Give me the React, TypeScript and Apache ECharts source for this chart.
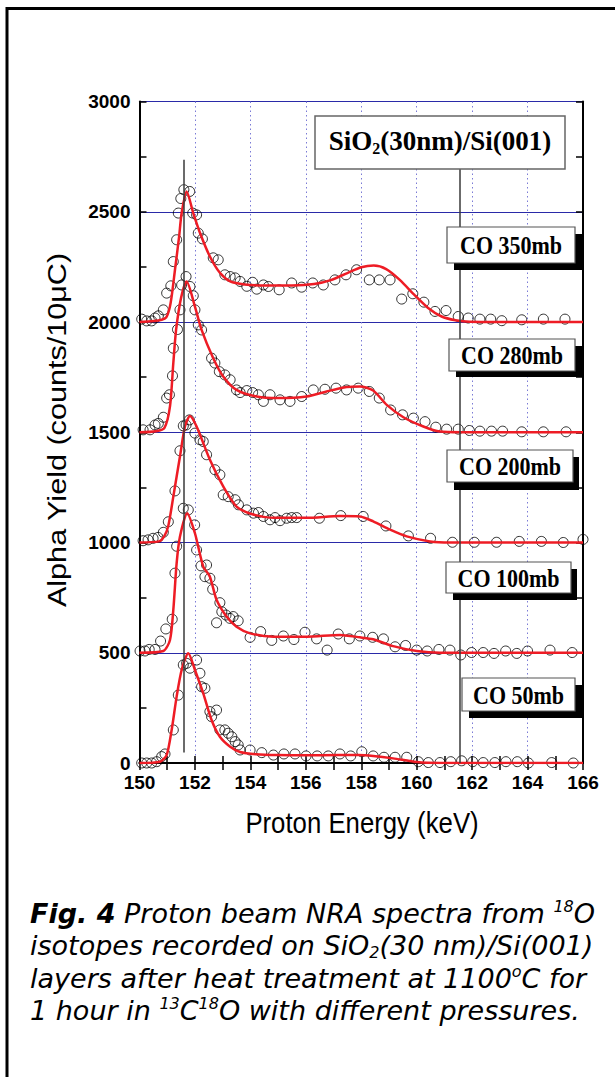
import React, { useEffect, useRef } from "react";
import * as echarts from "echarts";

// ---------- data (plotted values include the vertical offset of each spectrum) ----------
const seriesNames = ["CO 350mb", "CO 280mb", "CO 200mb", "CO 100mb", "CO 50mb"];

const pts350: number[][] = [
  [150.08, 2013], [150.26, 2005], [150.44, 2005], [150.56, 2018], [150.68, 2028], [150.86, 2055],
  [150.98, 2131], [151.13, 2164], [151.22, 2274], [151.34, 2373], [151.4, 2494], [151.49, 2560],
  [151.6, 2600], [151.81, 2592], [151.92, 2494], [152.06, 2486], [152.12, 2403], [152.27, 2377],
  [152.66, 2291], [152.84, 2282], [153.08, 2214], [153.27, 2206], [153.45, 2200], [153.63, 2184],
  [153.87, 2162], [154.08, 2180], [154.23, 2149], [154.47, 2168], [154.65, 2161], [155.04, 2146],
  [155.49, 2177], [155.85, 2158], [156.25, 2177], [156.63, 2168], [157.05, 2191], [157.45, 2214],
  [157.83, 2237], [158.29, 2191], [158.65, 2191], [159.04, 2191], [159.46, 2104], [159.86, 2128],
  [160.26, 2090], [160.66, 2048], [161.06, 2052], [161.5, 2025], [161.86, 2018], [162.28, 2013],
  [162.67, 2013], [163.07, 2006], [163.79, 2010], [164.57, 2013], [165.35, 2013],
];
const fit350: number[][] = [
  [150.0, 2000], [150.5, 2004], [150.8, 2010], [150.96, 2020], [151.08, 2060], [151.16, 2116],
  [151.28, 2237], [151.43, 2388], [151.52, 2494], [151.7, 2592], [151.94, 2494], [152.18, 2405],
  [152.54, 2297], [152.9, 2223], [153.27, 2184], [153.8, 2170], [154.5, 2166], [155.5, 2166],
  [156.3, 2172], [156.9, 2190], [157.5, 2222], [158.0, 2248], [158.45, 2256], [158.9, 2240],
  [159.4, 2190], [159.9, 2125], [160.4, 2065], [160.9, 2025], [161.4, 2008], [161.9, 2001],
  [163.0, 2000], [166.0, 2000],
];

const pts280: number[][] = [
  [150.13, 1511], [150.38, 1511], [150.56, 1533], [150.68, 1540], [150.86, 1568], [150.98, 1655],
  [151.08, 1670], [151.19, 1756], [151.22, 1881], [151.37, 1966], [151.46, 2055], [151.52, 2168],
  [151.68, 2206], [151.82, 2161], [151.94, 2119], [152.0, 2055], [152.12, 1987], [152.24, 1964],
  [152.6, 1836], [152.72, 1814], [152.88, 1775], [153.08, 1760], [153.27, 1738], [153.5, 1692],
  [153.63, 1680], [153.87, 1689], [154.08, 1680], [154.29, 1670], [154.47, 1640], [154.71, 1670],
  [155.07, 1647], [155.43, 1640], [155.85, 1662], [156.27, 1692], [156.69, 1695], [157.09, 1700],
  [157.47, 1692], [157.89, 1700], [158.29, 1685], [158.65, 1655], [159.06, 1601], [159.49, 1579],
  [159.88, 1564], [160.3, 1548], [160.69, 1523], [161.08, 1514], [161.5, 1514], [161.9, 1508],
  [162.28, 1505], [162.7, 1505], [163.1, 1505], [163.79, 1502], [164.57, 1502], [165.39, 1502],
];
const fit280: number[][] = [
  [150.0, 1500], [150.6, 1505], [150.9, 1520], [151.1, 1617], [151.22, 1814], [151.32, 1964],
  [151.5, 2110], [151.7, 2184], [152.0, 2070], [152.24, 1964], [152.66, 1836], [153.02, 1753],
  [153.5, 1692], [154.23, 1662], [155.0, 1655], [156.03, 1662], [156.75, 1685], [157.47, 1705],
  [157.95, 1708], [158.43, 1689], [158.92, 1624], [159.52, 1568], [160.24, 1526], [160.84, 1503],
  [161.6, 1500], [166.0, 1500],
];

const pts200: number[][] = [
  [150.13, 1008], [150.31, 1012], [150.49, 1019], [150.67, 1023], [150.86, 1046], [151.04, 1094],
  [151.28, 1234], [151.46, 1416], [151.58, 1529], [151.68, 1533], [151.8, 1556], [152.0, 1496],
  [152.18, 1466], [152.3, 1458], [152.42, 1398], [152.72, 1330], [152.9, 1307], [153.02, 1216],
  [153.2, 1208], [153.45, 1194], [153.57, 1171], [153.87, 1148], [154.11, 1133], [154.29, 1136],
  [154.47, 1118], [154.71, 1103], [154.89, 1113], [155.07, 1099], [155.31, 1110], [155.49, 1113],
  [155.67, 1113], [156.49, 1110], [157.26, 1122], [158.07, 1118], [158.89, 1075], [159.7, 1030],
  [160.5, 1019], [161.29, 1001], [162.08, 1001], [162.88, 1001], [163.7, 1005], [164.5, 1005],
  [165.29, 1000], [166.0, 1014],
];
const fit200: number[][] = [
  [150.0, 1000], [150.7, 1005], [150.9, 1030], [151.04, 1076], [151.22, 1208], [151.46, 1390],
  [151.64, 1526], [151.82, 1574], [152.06, 1526], [152.54, 1375], [153.02, 1254], [153.5, 1163],
  [154.1, 1127], [154.83, 1112], [156.03, 1112], [157.23, 1120], [157.95, 1118], [158.43, 1096],
  [159.04, 1058], [159.64, 1028], [160.48, 1005], [161.2, 1000], [166.0, 1000],
];

const pts100: number[][] = [
  [150.02, 508], [150.2, 508], [150.35, 515], [150.56, 515], [150.76, 553], [150.95, 608],
  [151.18, 652], [151.28, 861], [151.34, 983], [151.58, 1155], [151.76, 1148], [151.99, 1080],
  [152.06, 966], [152.22, 894], [152.36, 845], [152.42, 898], [152.54, 838], [152.64, 788],
  [152.78, 636], [152.9, 727], [152.97, 686], [153.12, 671], [153.26, 656], [153.38, 664],
  [153.56, 645], [153.99, 570], [154.37, 596], [154.77, 556], [155.19, 576], [155.57, 560],
  [155.97, 593], [156.39, 563], [156.77, 512], [157.17, 585], [157.57, 563], [157.95, 576],
  [158.41, 570], [158.8, 563], [159.22, 527], [159.6, 533], [160.0, 512], [160.38, 508],
  [160.8, 515], [161.2, 512], [161.59, 490], [161.98, 501], [162.4, 501], [162.79, 497],
  [163.21, 508], [163.61, 497], [164.0, 508], [164.81, 512], [165.61, 501],
];
const fit100: number[][] = [
  [150.0, 500], [150.86, 508], [151.1, 558], [151.22, 694], [151.34, 906], [151.46, 1027],
  [151.72, 1133], [152.0, 1042], [152.3, 891], [152.54, 845], [152.78, 740], [153.14, 664],
  [153.5, 618], [153.99, 588], [154.83, 573], [156.03, 573], [157.23, 581], [157.95, 570],
  [158.43, 561], [159.15, 530], [160.0, 508], [160.84, 500], [166.0, 500],
];

const pts50: number[][] = [
  [150.08, 0], [150.26, 0], [150.44, 0], [150.62, 6], [150.8, 29], [150.92, 41], [151.22, 150],
  [151.4, 308], [151.58, 445], [151.7, 452], [151.82, 430], [152.06, 467], [152.18, 407],
  [152.24, 346], [152.36, 339], [152.54, 233], [152.6, 210], [152.78, 240], [152.9, 150],
  [153.08, 150], [153.2, 135], [153.33, 119], [153.45, 97], [153.56, 82], [153.63, 59],
  [153.99, 59], [154.41, 47], [154.83, 36], [155.21, 41], [155.61, 41], [156.01, 32],
  [156.41, 32], [156.81, 32], [157.23, 41], [157.62, 32], [158.02, 51], [158.43, 32],
  [158.82, 26], [159.22, 26], [159.64, 26], [160.06, 6], [160.42, 2], [160.84, 2], [161.23, 6],
  [161.62, 10], [162.02, 6], [162.4, 2], [162.82, 2], [163.22, 6], [163.63, 6], [164.03, 0],
  [164.87, 2], [165.65, 0],
];
const fit50: number[][] = [
  [150.0, 0], [150.74, 6], [150.98, 36], [151.16, 150], [151.34, 301], [151.52, 422],
  [151.76, 498], [152.0, 422], [152.3, 316], [152.6, 195], [152.9, 119], [153.27, 74],
  [153.63, 50], [154.2, 40], [155.0, 36], [156.0, 35], [157.2, 36], [157.9, 36], [158.43, 32],
  [159.15, 21], [160.0, 4], [160.84, 0], [166.0, 0],
];

const pointSets = [pts350, pts280, pts200, pts100, pts50];
const fitSets = [fit350, fit280, fit200, fit100, fit50];

// reference lines (energy, from, to)
const refLines: number[][] = [
  [151.6, 2736, 48],
  [161.56, 2694, 0],
];

const xMin = 150, xMax = 166, xStep = 2;
const yMin = 0, yMax = 3000, yStep = 500;
const xTitle = "Proton Energy (keV)";
const yTitle = "Alpha Yield (counts/10\u03bcC)";

// ---------- layout ----------
const W = 615, H = 1077;
const G = { left: 139.5, right: 32, top: 101.5, bottom: 314 };

// annotation boxes [x, y, w, h, shadowX2, shadowY2]
const boxes: number[][] = [
  [447, 227, 128, 36, 583, 270],
  [449, 339, 126, 32, 583, 377],
  [447, 450, 126, 32, 579, 490],
  [446, 562, 125, 31, 577, 600],
  [462, 678, 113, 33, 583, 718],
];

export default function App() {
  const ref = useRef<HTMLDivElement>(null);
  useEffect(() => {
    if (!ref.current) return;
    const chart = echarts.init(ref.current, undefined, { renderer: "svg", width: W, height: H });

    const series: any[] = [];
    seriesNames.forEach((n, i) => {
      series.push({
        name: n + " data",
        type: "scatter",
        data: pointSets[i],
        symbol: "circle",
        symbolSize: 10,
        itemStyle: { color: "rgba(255,255,255,0)", borderColor: "#000", borderWidth: 1 },
        z: 3,
        silent: true,
      });
      series.push({
        name: n + " fit",
        type: "line",
        data: fitSets[i],
        showSymbol: false,
        smooth: 0.25,
        lineStyle: { color: "#ee1c25", width: 2.5 },
        z: 4,
        silent: true,
      });
    });
    series.push({
      type: "line",
      data: [],
      markLine: {
        silent: true,
        symbol: ["none", "none"],
        label: { show: false },
        lineStyle: { color: "#3a3a3a", width: 1.5, type: "solid" },
        data: refLines.map((r) => [{ coord: [r[0], r[1]] }, { coord: [r[0], r[2]] }]),
      },
      z: 2,
    });

    const labelFont = { fontFamily: "Liberation Sans", fontWeight: "bold" as const, fontSize: 19, color: "#000" };
    const axisLineStyle = { show: true, lineStyle: { color: "#000", width: 2 } };
    const tickStyle = { show: true, inside: true, length: 7, lineStyle: { color: "#000", width: 1.5 } };
    const minorStyle = { show: true, splitNumber: 2, length: 7, lineStyle: { color: "#000", width: 1.5 } };

    const graphic: any[] = [
      // outer frame
      {
        type: "rect",
        shape: { x: 7, y: 8.5, width: 700, height: 1200 },
        style: { fill: "none", stroke: "#000", lineWidth: 3 },
        silent: true,
      },
      // axis titles
      {
        type: "text",
        x: 362,
        y: 823,
        scaleX: 1.12,
        scaleY: 1.25,
        style: {
          text: xTitle,
          align: "center",
          verticalAlign: "middle",
          fontFamily: "Liberation Sans",
          fontSize: 23,
          fill: "#000",
        },
      },
      {
        type: "text",
        x: 57,
        y: 430,
        rotation: Math.PI / 2,
        scaleX: 1.33,
        scaleY: 1.12,
        style: {
          text: yTitle,
          align: "center",
          verticalAlign: "middle",
          fontFamily: "Liberation Sans",
          fontSize: 23,
          fill: "#000",
        },
      },
      // title box
      {
        type: "rect",
        shape: { x: 315, y: 116, width: 250, height: 53 },
        style: { fill: "#fff", stroke: "#666", lineWidth: 1.5 },
        z: 10,
      },
      {
        type: "text",
        x: 440,
        y: 141,
        z: 11,
        style: {
          text: "{a|SiO}{s|2}{a|(30nm)/Si(001)}",
          align: "center",
          verticalAlign: "middle",
          rich: {
            a: { fontFamily: "Liberation Serif", fontWeight: "bold", fontSize: 27, lineHeight: 30, fill: "#000" },
            s: { fontFamily: "Liberation Serif", fontWeight: "bold", fontSize: 16, lineHeight: 13, verticalAlign: "bottom", fill: "#000" },
          },
        },
      },
    ];

    boxes.forEach((b, i) => {
      graphic.push({
        type: "rect",
        shape: { x: b[0] + 7, y: b[1] + 7, width: b[4] - b[0] - 7, height: b[5] - b[1] - 7 },
        style: { fill: "#000" },
        z: 10,
      });
      graphic.push({
        type: "rect",
        shape: { x: b[0], y: b[1], width: b[2], height: b[3] },
        style: { fill: "#fff", stroke: "#555", lineWidth: 1.2 },
        z: 11,
      });
      graphic.push({
        type: "text",
        x: b[0] + b[2] / 2,
        y: b[1] + b[3] / 2 + 1,
        z: 12,
        scaleY: 1.1,
        style: {
          text: seriesNames[i],
          align: "center",
          verticalAlign: "middle",
          fontFamily: "Liberation Serif",
          fontWeight: "bold",
          fontSize: 22,
          fill: "#000",
        },
      });
    });

    // caption
    const capBase = { fontFamily: "DejaVu Sans", fontStyle: "italic", fontSize: 27, lineHeight: 30, fill: "#000" };
    const supSt = { fontFamily: "DejaVu Sans", fontStyle: "italic", fontSize: 16, lineHeight: 14, verticalAlign: "top", fill: "#000" };
    const subSt = { fontFamily: "DejaVu Sans", fontStyle: "italic", fontSize: 16, lineHeight: 12, verticalAlign: "bottom", fill: "#000" };
    const capLines = [
      "{b|Fig. 4} Proton beam NRA spectra from {u|18}O",
      "isotopes recorded on SiO{d|2}(30 nm)/Si(001)",
      "layers after heat treatment at 1100{u|o}C for",
      "1 hour in {u|13}C{u|18}O with different pressures.",
    ];
    const capY = [913, 945.5, 978, 1010.5];
    capLines.forEach((t, i) => {
      graphic.push({
        type: "text",
        x: 30,
        y: capY[i],
        style: {
          text: t,
          align: "left",
          verticalAlign: "middle",
          ...capBase,
          rich: {
            b: { ...capBase, fontWeight: "bold" },
            u: supSt,
            d: subSt,
          },
        },
      });
    });

    chart.setOption({
      animation: false,
      backgroundColor: "#fff",
      grid: { left: G.left, right: G.right, top: G.top, bottom: G.bottom, containLabel: false },
      xAxis: [
        {
          type: "value",
          min: xMin,
          max: xMax,
          interval: xStep,
          position: "bottom",
          axisLine: axisLineStyle,
          axisTick: tickStyle,
          minorTick: minorStyle,
          axisLabel: { ...labelFont, margin: 10, formatter: (v: number) => String(v) },
          splitLine: { show: true, lineStyle: { color: "#7a7ad6", width: 1, type: [1.5, 3] } },
        },
        {
          type: "value",
          min: xMin,
          max: xMax,
          interval: 1,
          position: "top",
          axisLine: axisLineStyle,
          axisTick: tickStyle,
          axisLabel: { show: false },
          splitLine: { show: false },
        },
      ],
      yAxis: [
        {
          type: "value",
          min: yMin,
          max: yMax,
          interval: yStep,
          position: "left",
          axisLine: axisLineStyle,
          axisTick: tickStyle,
          minorTick: minorStyle,
          axisLabel: { ...labelFont, margin: 9, formatter: (v: number) => String(v) },
          splitLine: { show: true, lineStyle: { color: "#2a2aa8", width: 1 } },
        },
        {
          type: "value",
          min: yMin,
          max: yMax,
          interval: yStep,
          position: "right",
          axisLine: axisLineStyle,
          axisTick: tickStyle,
          minorTick: minorStyle,
          axisLabel: { show: false },
          splitLine: { show: false },
        },
      ],
      series,
      graphic,
    });
    return () => chart.dispose();
  }, []);
  return (
    <div
      ref={ref}
      style={{ position: "absolute", left: 0, top: 0, width: W, height: H, background: "#fff" }}
    />
  );
}
